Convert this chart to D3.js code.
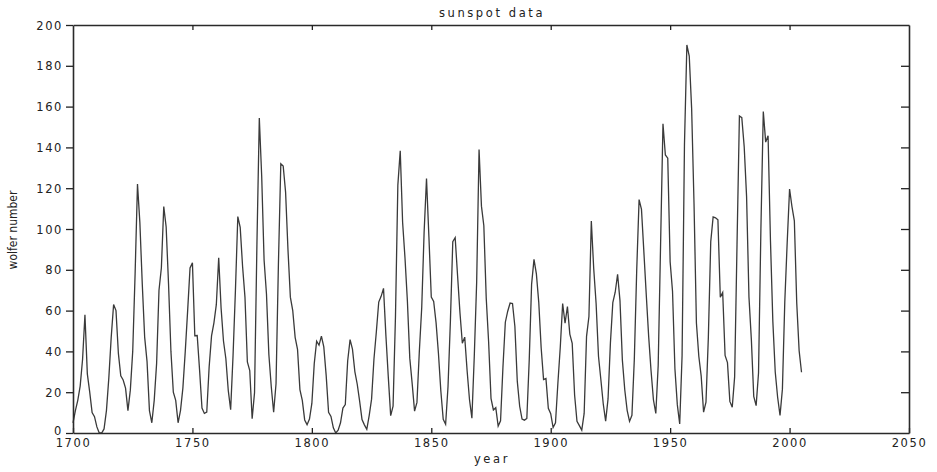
<!DOCTYPE html>
<html>
<head>
<meta charset="utf-8">
<script src="https://cdn.jsdelivr.net/npm/d3@7"></script>
<style>
  body { margin: 0; background: #fff; }
  text { font-family: "DejaVu Sans", sans-serif; fill: #222; }
</style>
</head>
<body>
<div id="canvas"></div>
<script>
// yearly wolfer (sunspot) numbers, 1700 .. 2005
const firstYear = 1700;
const wolfer = [
  5, 11, 16, 23, 36, 58, 29, 20, 10, 8,
  3, 0, 0, 2, 11, 27, 47, 63, 60, 39,
  28, 26, 22, 11, 21, 40, 78, 122, 103, 73,
  47, 35, 11, 5, 16, 34, 70, 81, 111, 101,
  73, 40, 20, 16, 5, 11, 22, 40, 60, 80.9,
  83.4, 47.7, 47.8, 30.7, 12.2, 9.6, 10.2, 32.4, 47.6, 54,
  62.9, 85.9, 61.2, 45.1, 36.4, 20.9, 11.4, 37.8, 69.8, 106.1,
  100.8, 81.6, 66.5, 34.8, 30.6, 7, 19.8, 92.5, 154.4, 125.9,
  84.8, 68.1, 38.5, 22.8, 10.2, 24.1, 82.9, 132, 130.9, 118.1,
  89.9, 66.6, 60, 46.9, 41, 21.3, 16, 6.4, 4.1, 6.8,
  14.5, 34, 45, 43.1, 47.5, 42.2, 28.1, 10.1, 8.1, 2.5,
  0, 1.4, 5, 12.2, 13.9, 35.4, 45.8, 41.1, 30.1, 23.9,
  15.6, 6.6, 4, 1.8, 8.5, 16.6, 36.3, 49.6, 64.2, 67,
  70.9, 47.8, 27.5, 8.5, 13.2, 56.9, 121.5, 138.3, 103.2, 85.7,
  64.6, 36.7, 24.2, 10.7, 15, 40.1, 61.5, 98.5, 124.7, 96.3,
  66.6, 64.5, 54.1, 39, 20.6, 6.7, 4.3, 22.7, 54.8, 93.8,
  95.8, 77.2, 59.1, 44, 47, 30.5, 16.3, 7.3, 37.6, 74,
  139, 111.2, 101.6, 66.2, 44.7, 17, 11.3, 12.4, 3.4, 6,
  32.3, 54.3, 59.7, 63.7, 63.5, 52.2, 25.4, 13.1, 6.8, 6.3,
  7.1, 35.6, 73, 85.1, 78, 64, 41.8, 26.2, 26.7, 12.1,
  9.5, 2.7, 5, 24.4, 42, 63.5, 53.8, 62, 48.5, 43.9,
  18.6, 5.7, 3.6, 1.4, 9.6, 47.4, 57.1, 103.9, 80.6, 63.6,
  37.6, 26.1, 14.2, 5.8, 16.7, 44.3, 63.9, 69, 77.8, 64.9,
  35.7, 21.2, 11.1, 5.7, 8.7, 36.1, 79.7, 114.4, 109.6, 88.8,
  67.8, 47.5, 30.6, 16.3, 9.6, 33.2, 92.6, 151.6, 136.3, 134.7,
  83.9, 69.4, 31.5, 13.9, 4.4, 38, 141.7, 190.2, 184.8, 159,
  112.3, 53.9, 37.6, 27.9, 10.2, 15.1, 47, 93.8, 105.9, 105.5,
  104.5, 66.6, 68.9, 38, 34.5, 15.5, 12.6, 27.5, 92.5, 155.4,
  154.6, 140.4, 115.9, 66.6, 45.9, 17.9, 13.4, 29.4, 100.2, 157.6,
  142.6, 145.7, 94.3, 54.6, 29.9, 17.5, 8.6, 21.5, 64.3, 93.3,
  119.6, 111, 104, 63.7, 40.4, 29.8
];
const xTicks = [1700, 1750, 1800, 1850, 1900, 1950, 2000, 2050];
const yTicks = [0, 20, 40, 60, 80, 100, 120, 140, 160, 180, 200];

const data = wolfer.map((v, i) => ({ year: firstYear + i, value: v }));

const width = 937;
const height = 472;
const margin = { top: 25, left: 73, bottom: 39, right: 28 };
const iwidth = width - margin.left - margin.right;
const iheight = height - margin.top - margin.bottom;

const svg = d3.select("#canvas").append("svg")
  .attr("width", width).attr("height", height);

const g = svg.append("g")
  .attr("transform", `translate(${margin.left},${margin.top})`);

const x = d3.scaleLinear().domain([1700, 2050]).range([0, iwidth]);
const y = d3.scaleLinear().domain([0, 200]).range([iheight, 0]);

// series
g.append("path")
  .datum(data)
  .attr("fill", "none")
  .attr("stroke", "#3a3a3a")
  .attr("stroke-width", 1.3)
  .attr("d", d3.line().x(d => x(d.year)).y(d => y(d.value)));

// bottom axis, ticks pointing inward
const xb = g.append("g")
  .attr("transform", `translate(0,${iheight})`)
  .call(d3.axisBottom(x).tickValues(xTicks).tickFormat(d3.format("d"))
    .tickSizeInner(-5).tickSizeOuter(0).tickPadding(6));
// top axis, no labels
const xt = g.append("g")
  .call(d3.axisTop(x).tickValues(xTicks.slice(1, -1)).tickFormat("")
    .tickSizeInner(-5).tickSizeOuter(0));
// left axis, ticks outward
const yl = g.append("g")
  .call(d3.axisLeft(y).tickValues(yTicks).tickSizeInner(7).tickSizeOuter(0).tickPadding(3));
// right axis, ticks inward, no labels
const yr = g.append("g")
  .attr("transform", `translate(${iwidth},0)`)
  .call(d3.axisRight(y).tickValues(yTicks.slice(1, -1)).tickFormat("")
    .tickSizeInner(-8).tickSizeOuter(0));

[xb, xt, yl, yr].forEach(a => {
  a.select(".domain").attr("stroke", "#2a2a2a").attr("stroke-width", 1.6);
  a.selectAll(".tick line").attr("stroke", "#222").attr("stroke-width", 1.3);
  a.selectAll(".tick text")
    .style("font-family", "DejaVu Sans, sans-serif")
    .style("font-size", "11.5px")
    .style("letter-spacing", "1.6px")
    .attr("fill", "#222");
});
yl.selectAll(".tick text").attr("dy", d => d === 0 ? "0.1em" : "0.36em");

// titles
svg.append("text")
  .attr("x", margin.left + iwidth / 2 + 1)
  .attr("y", 17)
  .attr("text-anchor", "middle")
  .style("font-size", "11.5px")
  .style("letter-spacing", "2.6px")
  .text("sunspot data");

svg.append("text")
  .attr("x", margin.left + iwidth / 2 + 1)
  .attr("y", 463)
  .attr("text-anchor", "middle")
  .style("font-size", "11.5px")
  .style("letter-spacing", "2.6px")
  .text("year");

svg.append("text")
  .attr("transform", `translate(17,${margin.top + iheight / 2 + 1}) rotate(-90)`)
  .attr("text-anchor", "middle")
  .style("font-family", "'Liberation Sans Narrow', 'DejaVu Sans Condensed', sans-serif")
  .style("font-size", "12px")
  .text("wolfer number");
</script>
</body>
</html>
